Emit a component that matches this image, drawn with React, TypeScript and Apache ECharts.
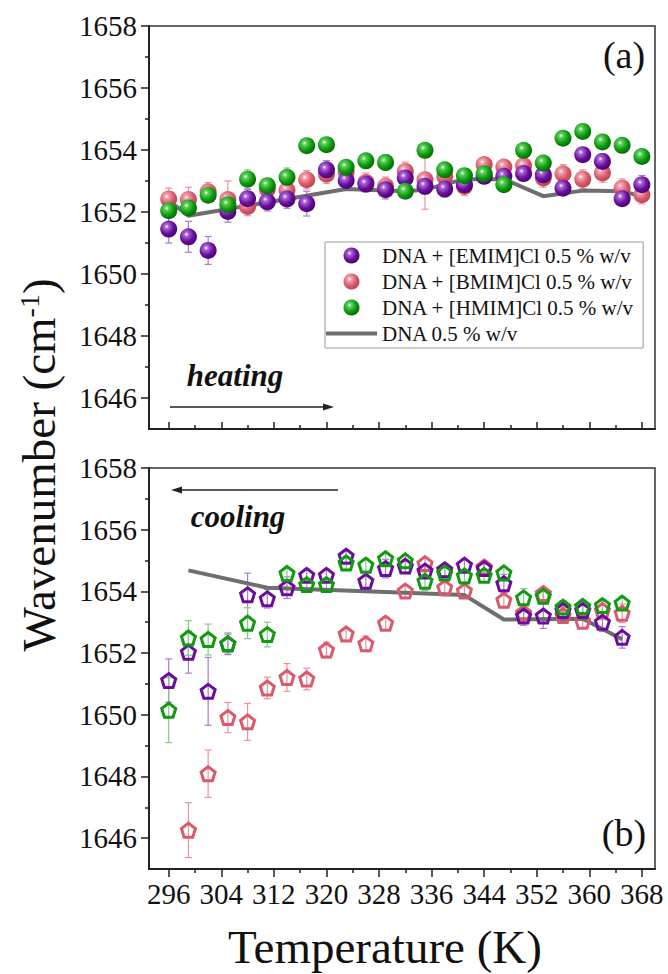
import React, { useEffect, useRef } from 'react';
import * as echarts from 'echarts';

// ---------- data ----------
const TEMP_HEAT = [296, 299, 302, 305, 308, 311, 314, 317, 320, 323, 326, 329, 332, 335, 338, 341, 344, 347, 350, 353, 356, 359, 362, 365, 368];
const EMIM_HEAT = [1651.45, 1651.2, 1650.76, 1652.02, 1652.43, 1652.33, 1652.42, 1652.27, 1653.36, 1653.02, 1652.9, 1652.72, 1653.1, 1652.83, 1652.74, 1652.88, 1653.15, 1653.15, 1653.24, 1653.2, 1652.77, 1653.85, 1653.63, 1652.43, 1652.88];
const EMIM_HEAT_ERR = [0.45, 0.5, 0.45, 0.35, 0.3, 0.3, 0.3, 0.4, 0.3, 0.25, 0.25, 0.3, 0.25, 0.25, 0.25, 0.2, 0.2, 0.2, 0.2, 0.2, 0.2, 0.2, 0.25, 0.2, 0.3];
const BMIM_HEAT = [1652.42, 1652.4, 1652.65, 1652.4, 1652.18, 1652.74, 1652.7, 1653.04, 1653.22, 1653.31, 1652.96, 1652.83, 1653.31, 1653.04, 1653.15, 1652.83, 1653.53, 1653.45, 1653.49, 1653.1, 1653.23, 1653.06, 1653.26, 1652.77, 1652.56];
const BMIM_HEAT_ERR = [0.35, 0.4, 0.3, 0.6, 0.3, 0.3, 0.35, 0.3, 0.3, 0.3, 0.3, 0.3, 0.3, 0.95, 0.3, 0.3, 0.2, 0.2, 0.3, 0.3, 0.3, 0.3, 0.3, 0.3, 0.3];
const HMIM_HEAT = [1652.04, 1652.13, 1652.54, 1652.23, 1653.06, 1652.85, 1653.12, 1654.14, 1654.17, 1653.44, 1653.65, 1653.6, 1652.67, 1653.99, 1653.36, 1653.17, 1653.23, 1652.88, 1653.99, 1653.58, 1654.38, 1654.6, 1654.26, 1654.15, 1653.79];
const HMIM_HEAT_ERR = [0.2, 0.2, 0.2, 0.2, 0.3, 0.2, 0.3, 0.2, 0.2, 0.2, 0.2, 0.25, 0.2, 0.2, 0.2, 0.15, 0.2, 0.2, 0.2, 0.2, 0.2, 0.2, 0.2, 0.2, 0.2];
const DNA_HEAT_T = [296, 299, 323, 332, 335, 341, 347, 353, 359, 365, 368];
const DNA_HEAT = [1652.37, 1651.88, 1652.74, 1652.67, 1652.72, 1653.06, 1653.06, 1652.51, 1652.69, 1652.67, 1652.51];

const TEMP_COOL = [296, 299, 302, 305, 308, 311, 314, 317, 320, 323, 326, 329, 332, 335, 338, 341, 344, 347, 350, 353, 356, 359, 362, 365];
const EMIM_COOL = [1651.11, 1652.03, 1650.76, 1652.3, 1653.89, 1653.76, 1654.12, 1654.52, 1654.52, 1655.14, 1654.33, 1654.74, 1654.82, 1654.66, 1654.7, 1654.85, 1654.74, 1654.25, 1653.2, 1653.2, 1653.38, 1653.38, 1653.0, 1652.51];
const EMIM_COOL_ERR = [0.7, 0.68, 1.1, 0.35, 0.7, 0.3, 0.35, 0.2, 0.2, 0.2, 0.3, 0.3, 0.2, 0.2, 0.2, 0.2, 0.2, 0.3, 0.3, 0.4, 0.3, 0.3, 0.3, 0.35];
const BMIM_COOL = [null, 1646.26, 1648.09, 1649.91, 1649.77, 1650.87, 1651.21, 1651.16, 1652.1, 1652.62, 1652.3, 1652.97, 1654.01, 1654.9, 1654.12, 1654.01, 1654.79, 1653.71, 1653.3, 1653.93, 1653.22, 1653.03, 1653.38, 1653.29];
const BMIM_COOL_ERR = [0, 0.89, 0.77, 0.49, 0.6, 0.35, 0.45, 0.35, 0.25, 0.2, 0.25, 0.2, 0.2, 0.2, 0.2, 0.2, 0.2, 0.25, 0.25, 0.2, 0.25, 0.2, 0.3, 0.3];
const HMIM_COOL = [1650.15, 1652.49, 1652.44, 1652.3, 1652.97, 1652.6, 1654.58, 1654.22, 1654.22, 1654.92, 1654.85, 1655.06, 1654.99, 1654.33, 1654.6, 1654.5, 1654.52, 1654.6, 1653.79, 1653.84, 1653.49, 1653.51, 1653.54, 1653.62];
const HMIM_COOL_ERR = [1.05, 0.56, 0.5, 0.3, 0.5, 0.4, 0.2, 0.2, 0.2, 0.2, 0.2, 0.2, 0.2, 0.3, 0.2, 0.2, 0.2, 0.2, 0.3, 0.2, 0.2, 0.2, 0.2, 0.2];
const DNA_COOL_T = [299, 311, 329, 341, 347, 359, 365];
const DNA_COOL = [1654.68, 1654.12, 1653.98, 1653.88, 1653.09, 1653.11, 1652.45];

const X_TICKS = [296, 304, 312, 320, 328, 336, 344, 352, 360, 368];
const X_MINOR = [300, 308, 316, 324, 332, 340, 348, 356, 364];
const Y_TICKS = [1646, 1648, 1650, 1652, 1654, 1656, 1658];
const Y_MINOR = [1647, 1649, 1651, 1653, 1655, 1657];

const NAMES = ['DNA + [EMIM]Cl 0.5 % w/v', 'DNA + [BMIM]Cl 0.5 % w/v', 'DNA + [HMIM]Cl 0.5 % w/v', 'DNA 0.5 % w/v'];

// ---------- styles ----------
const FONT = "'Liberation Serif', 'Times New Roman', serif";
const PURPLE = '#6a0d9c';
const RED = '#d95a6c';
const GREEN = '#0f9a0f';
const ERR_PURPLE = '#a77bd0';
const ERR_RED = '#f0909c';
const ERR_GREEN = '#86c986';
const GRAY = '#6e6e6e';

const sphere = (light: string, base: string, dark: string) => ({
  type: 'radial', x: 0.38, y: 0.35, r: 0.7,
  colorStops: [
    { offset: 0, color: '#ffffff' },
    { offset: 0.18, color: light },
    { offset: 0.6, color: base },
    { offset: 1, color: dark },
  ],
});

const PENTAGON = 'path://M0,-10L9.511,-3.09L5.878,8.09L-5.878,8.09L-9.511,-3.09Z';
const LINE_ICON = 'path://M0,0H51V4H0Z';

const pts = (t: number[], v: (number | null)[], e?: number[]) =>
  t.map((x, i) => (e ? [x, v[i], e[i]] : [x, v[i]])).filter((p) => p[1] != null);

const errSeries = (name: string, data: any[], color: string, gi: number) => ({
  type: 'custom', name, xAxisIndex: gi === 0 ? 0 : 2, yAxisIndex: gi === 0 ? 0 : 2, z: 1,
  data, encode: { x: 0, y: 1 }, silent: true,
  renderItem: (params: any, api: any) => {
    const x = api.value(0), y = api.value(1), e = api.value(2);
    const hi = api.coord([x, y + e]);
    const lo = api.coord([x, y - e]);
    const c = 3.5;
    const st = { stroke: color, lineWidth: 1.2 };
    return {
      type: 'group', children: [
        { type: 'line', shape: { x1: hi[0], y1: hi[1], x2: lo[0], y2: lo[1] }, style: st },
        { type: 'line', shape: { x1: hi[0] - c, y1: hi[1], x2: hi[0] + c, y2: hi[1] }, style: st },
        { type: 'line', shape: { x1: lo[0] - c, y1: lo[1], x2: lo[0] + c, y2: lo[1] }, style: st },
      ],
    };
  },
});

const sphereSeries = (name: string, data: any[], fill: any) => ({
  type: 'scatter', name, xAxisIndex: 0, yAxisIndex: 0, z: 2,
  data, symbol: 'circle', symbolSize: 17, itemStyle: { color: fill, opacity: 1 },
});

const pentSeries = (name: string, data: any[], color: string) => ({
  type: 'scatter', name, xAxisIndex: 2, yAxisIndex: 2, z: 2,
  data, symbol: PENTAGON, symbolSize: 14,
  itemStyle: { color: 'rgba(255,255,255,0)', borderColor: color, borderWidth: 3, opacity: 1 },
});

const lineSeries = (name: string, data: any[], gi: number) => ({
  type: 'line', name, xAxisIndex: gi === 0 ? 0 : 2, yAxisIndex: gi === 0 ? 0 : 2, z: 1.5,
  data, symbol: 'none', showSymbol: false, lineStyle: { color: GRAY, width: 4 }, itemStyle: { color: GRAY },
});

const labelStyle = { fontFamily: FONT, fontSize: 29, color: '#111', formatter: (v: number) => String(v) };

const mainX = (gi: number, inside: boolean, showLabel: boolean) => ({
  type: 'value', gridIndex: gi, min: 293, max: 370,
  axisLine: { show: true, onZero: false, lineStyle: { color: '#222', width: 2 } },
  axisTick: { show: true, inside, length: inside ? 7 : 8, customValues: X_TICKS, lineStyle: { color: '#222', width: 1.5 } },
  axisLabel: { show: showLabel, customValues: X_TICKS, margin: 10, ...labelStyle },
  splitLine: { show: false },
});
const minorX = (gi: number, inside: boolean) => ({
  type: 'value', gridIndex: gi, min: 293, max: 370,
  axisLine: { show: false, onZero: false },
  axisTick: { show: true, inside, length: 4, customValues: X_MINOR, lineStyle: { color: '#222', width: 1.5 } },
  axisLabel: { show: false },
  splitLine: { show: false },
});
const mainY = (gi: number) => ({
  type: 'value', gridIndex: gi, min: 1645, max: 1658,
  axisLine: { show: true, onZero: false, lineStyle: { color: '#222', width: 2 } },
  axisTick: { show: true, length: 8, customValues: Y_TICKS, lineStyle: { color: '#222', width: 1.5 } },
  axisLabel: { show: true, customValues: Y_TICKS, margin: 12, ...labelStyle },
  splitLine: { show: false },
});
const minorY = (gi: number) => ({
  type: 'value', gridIndex: gi, min: 1645, max: 1658,
  axisLine: { show: false, onZero: false },
  axisTick: { show: true, length: 4, customValues: Y_MINOR, lineStyle: { color: '#222', width: 1.5 } },
  axisLabel: { show: false },
  splitLine: { show: false },
});

const GRID_A = { left: 149, right: 13, top: 26, height: 403 };
const GRID_B = { left: 149, right: 13, top: 468, height: 401 };

const option: any = {
  animation: false,
  backgroundColor: '#ffffff',
  grid: [
    { ...GRID_A, show: true, borderColor: '#333', borderWidth: 1.5, backgroundColor: 'transparent' },
    { ...GRID_A, show: false },
    { ...GRID_B, show: true, borderColor: '#333', borderWidth: 1.5, backgroundColor: 'transparent' },
    { ...GRID_B, show: false },
  ],
  xAxis: [mainX(0, true, false), minorX(1, true), mainX(2, false, true), minorX(3, false)],
  yAxis: [mainY(0), minorY(1), mainY(2), minorY(3)],
  legend: {
    data: [NAMES[0], NAMES[1], NAMES[2], { name: NAMES[3], icon: LINE_ICON }],
    orient: 'vertical', left: 325, top: 242,
    itemWidth: 51, itemHeight: 16, itemGap: 5,
    padding: [3, 9, 4, 1],
    borderColor: '#999', borderWidth: 1, backgroundColor: '#fff',
    selectedMode: false,
    textStyle: { fontFamily: FONT, fontSize: 21, color: '#111' },
  },
  series: [
    errSeries('err-bmim-h', pts(TEMP_HEAT, BMIM_HEAT, BMIM_HEAT_ERR), ERR_RED, 0),
    errSeries('err-emim-h', pts(TEMP_HEAT, EMIM_HEAT, EMIM_HEAT_ERR), ERR_PURPLE, 0),
    errSeries('err-hmim-h', pts(TEMP_HEAT, HMIM_HEAT, HMIM_HEAT_ERR), ERR_GREEN, 0),
    lineSeries(NAMES[3], pts(DNA_HEAT_T, DNA_HEAT), 0),
    sphereSeries(NAMES[1], pts(TEMP_HEAT, BMIM_HEAT), sphere('#f2a0aa', RED, '#b8404f')),
    sphereSeries(NAMES[0], pts(TEMP_HEAT, EMIM_HEAT), sphere('#a866d6', PURPLE, '#46006e')),
    sphereSeries(NAMES[2], pts(TEMP_HEAT, HMIM_HEAT), sphere('#5cd05c', GREEN, '#006400')),

    errSeries('err-bmim-c', pts(TEMP_COOL, BMIM_COOL, BMIM_COOL_ERR), ERR_RED, 1),
    errSeries('err-emim-c', pts(TEMP_COOL, EMIM_COOL, EMIM_COOL_ERR), ERR_PURPLE, 1),
    errSeries('err-hmim-c', pts(TEMP_COOL, HMIM_COOL, HMIM_COOL_ERR), ERR_GREEN, 1),
    lineSeries('DNA cooling', pts(DNA_COOL_T, DNA_COOL), 1),
    pentSeries('BMIM cooling', pts(TEMP_COOL, BMIM_COOL), RED),
    pentSeries('EMIM cooling', pts(TEMP_COOL, EMIM_COOL), PURPLE),
    pentSeries('HMIM cooling', pts(TEMP_COOL, HMIM_COOL), GREEN),
  ],
  graphic: [
    {
      type: 'text', x: 39, y: 465, rotation: Math.PI / 2,
      style: {
        text: '{m|Wavenumber (cm}{s|-1}{m|)}',
        rich: {
          m: { fontFamily: FONT, fontSize: 47, fill: '#111' },
          s: { fontFamily: FONT, fontSize: 28, fill: '#111', verticalAlign: 'top' },
        },
        align: 'center', verticalAlign: 'middle', fill: '#111',
      },
    },
    {
      type: 'text', x: 385, y: 947,
      style: { text: 'Temperature (K)', fontFamily: FONT, fontSize: 47, fill: '#111', align: 'center', verticalAlign: 'middle' },
    },
    {
      type: 'text', x: 624, y: 55,
      style: { text: '(a)', fontFamily: FONT, fontSize: 38, fill: '#111', align: 'center', verticalAlign: 'middle' },
    },
    {
      type: 'text', x: 624, y: 833,
      style: { text: '(b)', fontFamily: FONT, fontSize: 38, fill: '#111', align: 'center', verticalAlign: 'middle' },
    },
    {
      type: 'text', x: 235, y: 375,
      style: { text: 'heating', fontFamily: FONT, fontSize: 31, fontStyle: 'italic', fontWeight: 'bold', fill: '#111', align: 'center', verticalAlign: 'middle' },
    },
    {
      type: 'text', x: 238, y: 516,
      style: { text: 'cooling', fontFamily: FONT, fontSize: 31, fontStyle: 'italic', fontWeight: 'bold', fill: '#111', align: 'center', verticalAlign: 'middle' },
    },
    { type: 'line', shape: { x1: 170, y1: 407, x2: 325, y2: 407 }, style: { stroke: '#222', lineWidth: 1.3 } },
    { type: 'polygon', shape: { points: [[334, 407], [323, 403.5], [323, 410.5]] }, style: { fill: '#222' } },
    { type: 'line', shape: { x1: 338, y1: 490, x2: 180, y2: 490 }, style: { stroke: '#222', lineWidth: 1.3 } },
    { type: 'polygon', shape: { points: [[171, 490], [182, 486.5], [182, 493.5]] }, style: { fill: '#222' } },
  ],
};

export default function App() {
  const ref = useRef<HTMLDivElement>(null);
  useEffect(() => {
    if (!ref.current) return;
    const chart = echarts.init(ref.current, null, { renderer: 'svg' });
    chart.setOption(option);
    return () => chart.dispose();
  }, []);
  return (
    <div
      ref={ref}
      style={{ position: 'fixed', left: 0, top: 0, width: 668, height: 974, background: '#fff' }}
    />
  );
}
